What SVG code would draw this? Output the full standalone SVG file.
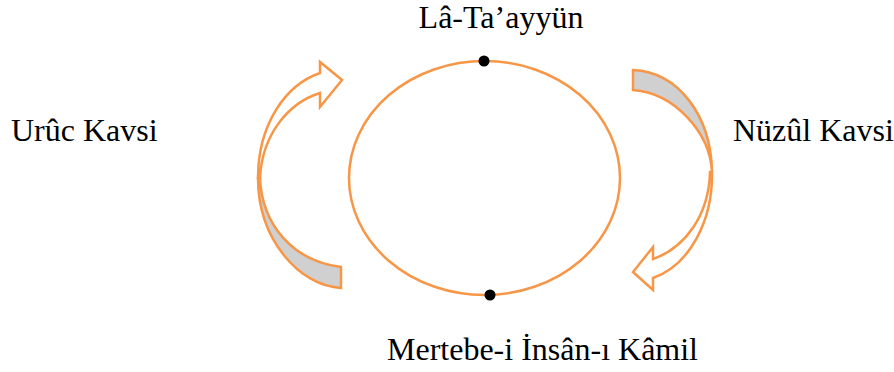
<svg xmlns="http://www.w3.org/2000/svg" width="894" height="372" viewBox="0 0 894 372">
<style>
.t{font-family:"Liberation Serif","Times New Roman",serif;font-size:32px;fill:#000}
.o{stroke:#F79646;stroke-width:2.5;stroke-linejoin:miter}
.g{fill:#D0D0D0}
.w{fill:#FFFFFF}
</style>
<rect width="894" height="372" fill="#fff"/>
<g id="cycle">
<ellipse cx="484.5" cy="178" rx="135.5" ry="117" fill="none" class="o"/>
</g>
<g id="arc-left">
<path class="o g" d="M258,178 C258,240 300,286 341,288 L341,267 C293,261 262,225 260,178 Z"/>
<path class="o w" d="M258,178 C258,125 285,85 320,73 L320,62 L342,80 L320,107 L320,93 C288,103 262,135 260,178 Z"/>
</g>
<g id="arc-right">
<path class="o g" d="M633,70 C678,72 711,115 712,172 C710,132 674,93 633,90 Z"/>
<path class="o w" d="M712,172 C713,220 690,265 653,278 L653,290 L633,272 L653,247 L653,259 C685,248 709,215 710,172 Z"/>
</g>
<g id="dot-top"><circle cx="484" cy="61" r="5.5" fill="#000"/></g>
<g id="dot-bottom"><circle cx="490" cy="295" r="5.5" fill="#000"/></g>
<g id="labels">
<text class="t" x="501" y="28" text-anchor="middle">Lâ-Ta’ayyün</text>
<text class="t" x="542.5" y="360" text-anchor="middle">Mertebe-i İnsân-ı Kâmil</text>
<text class="t" x="11" y="141">Urûc Kavsi</text>
<text class="t" x="733" y="141">Nüzûl Kavsi</text>
</g>
</svg>
